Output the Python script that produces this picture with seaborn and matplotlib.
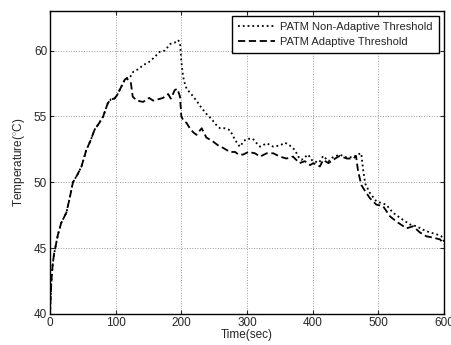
"""
PATM temperature trace - adaptive vs. non-adaptive threshold.

Redraws the temperature-over-time comparison as a seaborn line chart and
saves it to out.png.
"""

import numpy as np
import pandas as pd
import matplotlib
matplotlib.use('Agg')
import matplotlib.pyplot as plt
import seaborn as sns

# Warm-up part, identical for both runs (sec, deg C)
rise_time = [0, 1, 2, 4, 6, 8, 12, 17, 25, 30, 35, 42, 48, 55, 62, 68, 75,
             81, 88, 93, 98, 102, 106, 110, 114, 117]
rise_temp = [40.0, 41.2, 42.4, 43.7, 44.5, 45.0, 46.0, 46.9, 47.7, 48.8, 50.0,
             50.6, 51.2, 52.4, 53.2, 54.0, 54.5, 55.0, 56.0, 56.3, 56.35, 56.6,
             57.0, 57.4, 57.8, 57.9]

# Non-adaptive threshold after the split
nonadaptive_time = [121, 127, 135, 142, 150, 157, 167, 175, 183, 190, 195, 198,
                    200, 202, 204, 208, 215, 223, 230, 238, 246, 254, 259, 266,
                    274, 282, 289, 295, 299, 309, 314, 320, 330, 340, 350, 358,
                    365, 373, 378, 383, 393, 400, 410, 416, 424, 431, 441, 451,
                    462, 468, 474, 477, 480, 487, 497, 512, 522, 533, 548, 558,
                    568, 578, 589, 596, 600]
nonadaptive_temp = [57.9, 58.4, 58.6, 58.9, 59.1, 59.4, 59.9, 60.0, 60.5, 60.6,
                    60.8, 60.6, 59.2, 58.3, 57.7, 57.1, 56.7, 56.2, 55.7, 55.2,
                    54.8, 54.3, 54.1, 54.1, 53.96, 53.2, 52.7, 53.1, 53.3, 53.3,
                    53.0, 52.7, 52.96, 52.7, 52.8, 53.0, 52.8, 52.45, 51.95,
                    51.7, 52.1, 51.6, 51.5, 52.0, 51.6, 51.9, 52.1, 51.9, 51.9,
                    52.1, 52.2, 50.9, 49.9, 49.2, 48.55, 48.3, 47.7, 47.3, 46.8,
                    46.66, 46.4, 46.2, 46.04, 45.9, 45.5]

# Adaptive threshold after the split
adaptive_time = [120, 123, 126, 132, 142, 147, 151, 157, 165, 172, 180, 184,
                 190, 194, 198, 200, 203, 208, 213, 218, 223, 231, 238, 248,
                 256, 264, 274, 282, 287, 294, 302, 312, 320, 330, 340, 350,
                 360, 370, 380, 388, 396, 401, 411, 416, 424, 431, 441, 452,
                 462, 466, 469, 474, 479, 487, 497, 507, 518, 528, 543, 553,
                 563, 573, 583, 594, 600]
adaptive_temp = [57.7, 57.6, 56.5, 56.2, 56.1, 56.3, 56.4, 56.2, 56.3, 56.4,
                 56.7, 56.35, 57.0, 57.1, 56.5, 55.0, 54.7, 54.5, 54.1, 53.8,
                 53.6, 54.1, 53.4, 53.1, 52.8, 52.6, 52.3, 52.3, 52.1, 52.1,
                 52.3, 52.2, 51.95, 52.2, 52.2, 51.95, 51.8, 51.95, 51.45, 51.6,
                 51.3, 51.45, 51.2, 51.7, 51.45, 51.7, 52.0, 51.8, 51.8, 52.0,
                 50.9, 49.8, 49.4, 48.8, 48.3, 48.2, 47.4, 47.0, 46.5, 46.66,
                 46.2, 45.9, 45.8, 45.66, 45.3]

x_ticks = [0, 100, 200, 300, 400, 500, 600]
y_ticks = [40, 45, 50, 55, 60]


def make_frame(tail_time, tail_temp):
    # Join the shared warm-up with one run's tail
    return pd.DataFrame({'Time': rise_time + tail_time,
                         'Temperature': rise_temp + tail_temp})


sns.set_style('ticks')
plt.rcParams['font.family'] = ['Liberation Sans', 'DejaVu Sans']
plt.rcParams['mathtext.fontset'] = 'custom'
plt.rcParams['mathtext.rm'] = 'Liberation Sans'

fig = plt.figure(figsize=(4.52, 3.45), dpi=100)
ax = fig.add_axes([0.1106, 0.09, 0.8717, 0.878])

sns.lineplot(data=make_frame(nonadaptive_time, nonadaptive_temp), x='Time',
             y='Temperature', ax=ax, color='black', linestyle=':',
             linewidth=1.3, sort=False, estimator=None,
             label='PATM Non-Adaptive Threshold')
sns.lineplot(data=make_frame(adaptive_time, adaptive_temp), x='Time',
             y='Temperature', ax=ax, color='black', linestyle=(0, (4, 2)),
             linewidth=1.3, sort=False, estimator=None,
             label='PATM Adaptive Threshold')

ax.set_xlim(0, 600)
ax.set_ylim(40, 63)
ax.set_xticks(x_ticks)
ax.set_yticks(y_ticks)
ax.tick_params(direction='in', length=3, top=True, right=True,
               labelsize=8.5, pad=2, width=0.8)
ax.grid(True, linestyle=':', color='#999999', linewidth=0.7)
for spine in ax.spines.values():
    spine.set_visible(True)
    spine.set_linewidth(1.0)
    spine.set_color('black')

ax.set_xlabel('Time(sec)', fontsize=8.5, labelpad=0)
ax.set_ylabel('Temperature($^{\\circ}$C)', fontsize=8.5, labelpad=5)

leg = ax.legend(loc='upper right', fontsize=8, frameon=True, fancybox=False,
                edgecolor='black', framealpha=1, borderpad=0.55,
                handlelength=3.3, handletextpad=0.5, labelspacing=0.4,
                borderaxespad=0.45)
leg.get_frame().set_linewidth(1.0)

fig.savefig('out.png', dpi=100)
plt.close(fig)
